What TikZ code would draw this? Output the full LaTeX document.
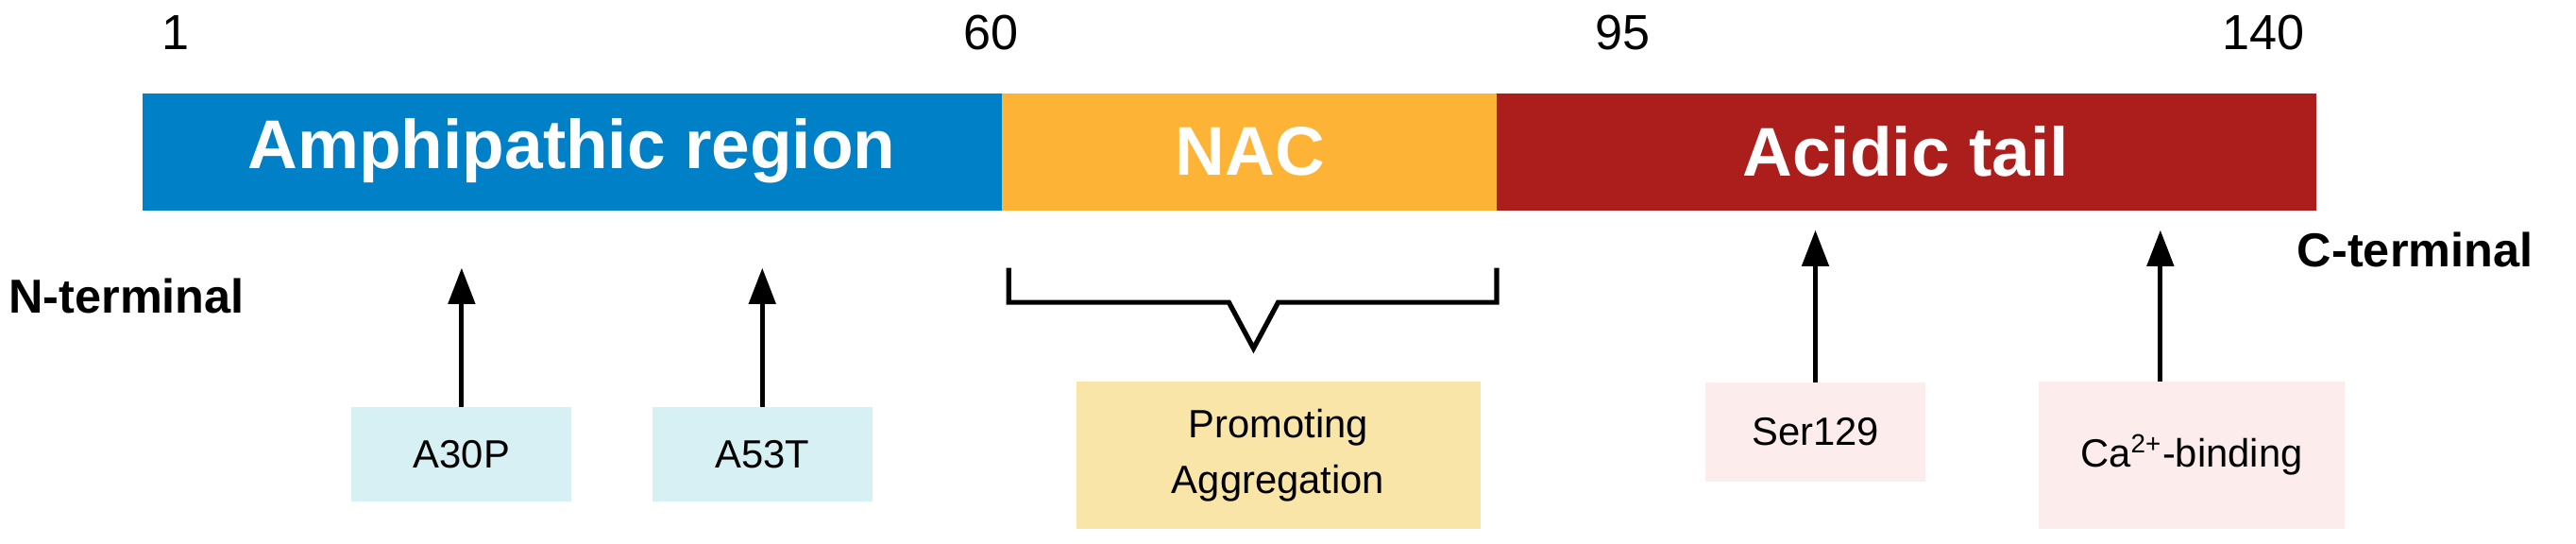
\documentclass[tikz,border=0pt]{standalone}
\usepackage{fontspec}
\setmainfont{Liberation Sans}
\usetikzlibrary{arrows.meta}
\definecolor{cblue}{HTML}{0080C6}
\definecolor{corange}{HTML}{FDB436}
\definecolor{cred}{HTML}{AC1E1B}
\definecolor{lblue}{HTML}{D6F0F3}
\definecolor{lyel}{HTML}{F9E5A8}
\definecolor{lpink}{HTML}{FDECEC}
\begin{document}
\begin{tikzpicture}[x=0.5pt,y=-0.5pt,
  seg/.style={anchor=north west,inner sep=0,text=white,font=\fontsize{21}{24}\selectfont\bfseries},
  num/.style={font=\fontsize{15}{18}\selectfont},
  term/.style={font=\fontsize{14.5}{17}\selectfont\bfseries},
  lab/.style={inner sep=0,font=\fontsize{12}{15}\selectfont,align=center},
  arr/.style={line width=1.5pt,-{Triangle[length=11pt,width=8pt]}}]
\useasboundingbox (0,0) rectangle (1568,331);
\fill[cblue] (87,57) rectangle (610,128);
\fill[corange] (610,57) rectangle (911,128);
\fill[cred] (911,57) rectangle (1410,128);
\node[text=white,font=\fontsize{21}{24}\selectfont\bfseries] (amph) at (348,92) {Amphipathic region};
\node[text=white,font=\fontsize{21}{24}\selectfont\bfseries] (nac) at (761,92) {NAC};
\node[text=white,font=\fontsize{21}{24}\selectfont\bfseries] (acid) at (1160,92) {Acidic tail};
\node[num] (n1) at (107,20) {1};
\node[num] (n60) at (603,20) {60};
\node[num] (n95) at (988,20) {95};
\node[num] (n140) at (1378,20) {140};
\node[term,anchor=west,inner sep=0] (nt) at (5,180) {N-terminal};
\node[term,anchor=west,inner sep=0] (ct) at (1398,152) {C-terminal};
\node[lab,fill=lblue,minimum width=67pt,minimum height=28.5pt] (a30) at (281,276.5) {A30P};
\node[lab,fill=lblue,minimum width=67pt,minimum height=28.5pt] (a53) at (464,276.5) {A53T};
\node[lab,fill=lyel,minimum width=123pt,minimum height=45pt] (pa) at (778,277) {Promoting\\[2pt]Aggregation};
\node[lab,fill=lpink,minimum width=67pt,minimum height=30pt] (ser) at (1105,263) {Ser129};
\node[lab,fill=lpink,minimum width=93pt,minimum height=45pt] (ca) at (1334,277) {Ca\textsuperscript{2+}-binding};
\coordinate (t1) at (281,163);
\coordinate (t2) at (464,163);
\coordinate (t3) at (1105,140);
\coordinate (t4) at (1315,140);
\draw[arr] (a30.north) -- (t1);
\draw[arr] (a53.north) -- (t2);
\draw[arr] (ser.north) -- (t3);
\draw[arr] (1315,232) -- (t4);
\draw[line width=1.5pt,line join=miter] (614,163) -- (614,184) -- (748,184) -- (763,212) -- (778,184) -- (911,184) -- (911,163);
\end{tikzpicture}
\end{document}
